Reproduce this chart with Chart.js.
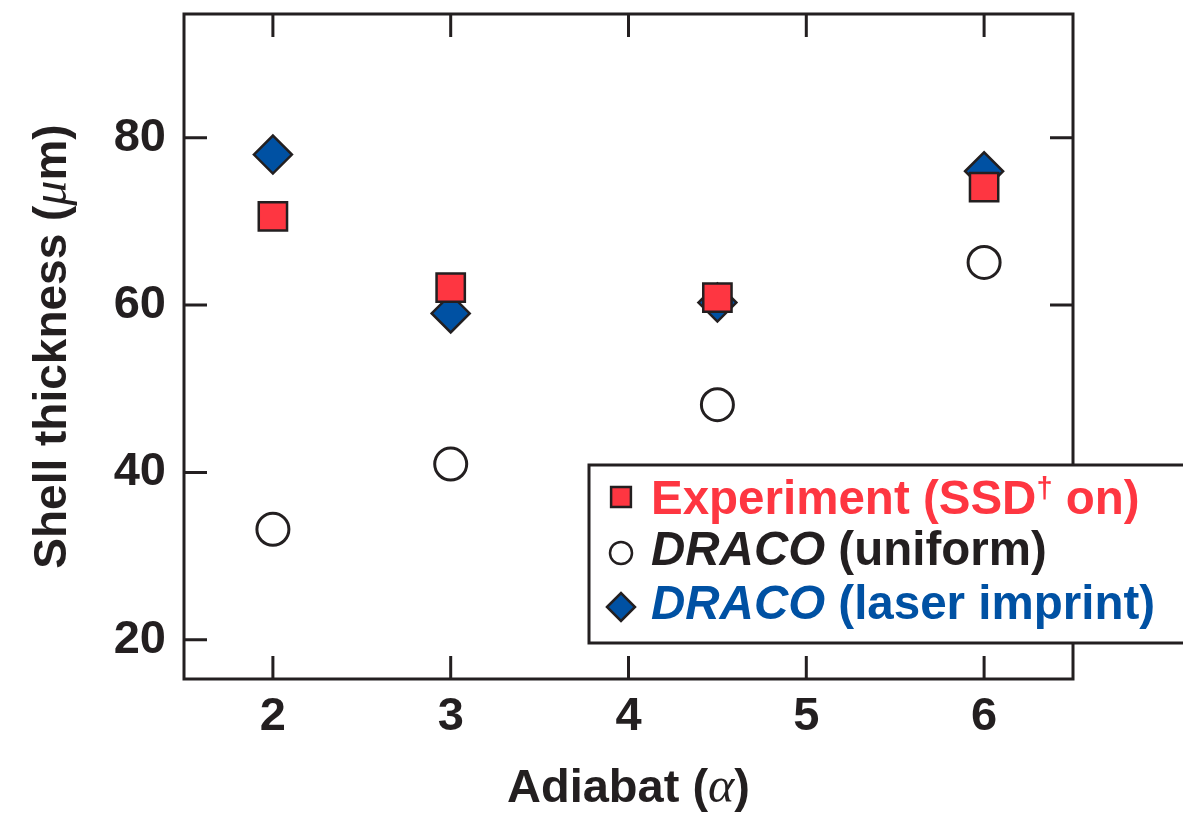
<!DOCTYPE html>
<html>
<head>
<meta charset="utf-8">
<script src="https://cdn.jsdelivr.net/npm/chart.js@4/dist/chart.umd.min.js"></script>
<style>
    html, body { margin: 0; padding: 0; background: #fff; }
    #wrap { width: 1183px; height: 813px; position: relative; }
</style>
</head>
<body>
<div id="wrap"><canvas id="shellChart"></canvas></div>
<script>
    var adiabat = [2, 3, 4.5, 6];
    var experimentSSD = [70.6, 62.1, 60.9, 74.1];
    var dracoUniform = [33.2, 41.0, 48.1, 65.1];
    var dracoImprint = [78.0, 59.0, 60.3, 76.0];
    var xTicks = [2, 3, 4, 5, 6];
    var yTicks = [20, 40, 60, 80];
    var xRange = [1.5, 6.5];
    var yRange = [15.3, 94.8];

    var INK = '#231f20';
    var RED = '#fe3641';
    var BLUE = '#0051a3';
    var SANS = '"Liberation Sans", Arial, Helvetica, sans-serif';
    var GREEK = '"Liberation Serif", "DejaVu Serif", serif';
    var TICK_LEN = 23;

    function toPoints(xs, ys) {
        return xs.map(function (x, i) { return { x: x, y: ys[i] }; });
    }

    // draws a line of mixed-style text
    function drawRuns(ctx, runs, x, y, align) {
        var total = 0;
        runs.forEach(function (r) {
            ctx.font = r.font;
            r.w = ctx.measureText(r.text).width;
            total += r.w;
        });
        var cx = align === 'center' ? x - total / 2 : x;
        ctx.textAlign = 'left';
        ctx.textBaseline = 'alphabetic';
        runs.forEach(function (r) {
            ctx.font = r.font;
            ctx.fillStyle = r.color || INK;
            ctx.fillText(r.text, cx, y + (r.dy || 0));
            cx += r.w;
        });
    }

    var framePlugin = {
        id: 'frame',
        beforeDatasetsDraw: function (chart) {
            var a = chart.chartArea;
            var ctx = chart.ctx;
            var xs = chart.scales.x;
            var ys = chart.scales.y;
            ctx.save();
            ctx.strokeStyle = INK;
            ctx.lineWidth = 3;
            ctx.strokeRect(a.left, a.top, a.right - a.left, a.bottom - a.top);
            ctx.beginPath();
            xTicks.forEach(function (v) {
                var px = xs.getPixelForValue(v);
                ctx.moveTo(px, a.bottom);
                ctx.lineTo(px, a.bottom - TICK_LEN);
                ctx.moveTo(px, a.top);
                ctx.lineTo(px, a.top + TICK_LEN);
            });
            yTicks.forEach(function (v) {
                var py = ys.getPixelForValue(v);
                ctx.moveTo(a.left, py);
                ctx.lineTo(a.left + TICK_LEN, py);
                ctx.moveTo(a.right, py);
                ctx.lineTo(a.right - TICK_LEN, py);
            });
            ctx.stroke();
            ctx.restore();
        },
        afterDraw: function (chart) {
            var a = chart.chartArea;
            var ctx = chart.ctx;
            var bold = 'bold 46px ' + SANS;
            var greek = 'italic 50px ' + GREEK;
            ctx.save();

            // axis titles
            drawRuns(ctx, [
                { text: 'Adiabat (', font: 'bold 47px ' + SANS },
                { text: 'α', font: greek },
                { text: ')', font: 'bold 47px ' + SANS }
            ], (a.left + a.right) / 2, 802, 'center');

            ctx.save();
            ctx.translate(66, (a.top + a.bottom) / 2);
            ctx.rotate(-Math.PI / 2);
            drawRuns(ctx, [
                { text: 'Shell thickness (', font: bold },
                { text: 'μ', font: greek },
                { text: 'm)', font: bold }
            ], 0, 0, 'center');
            ctx.restore();

            // legend box, runs past the right edge like the original
            ctx.fillStyle = '#fff';
            ctx.strokeStyle = INK;
            ctx.lineWidth = 3;
            ctx.fillRect(589, 465, 620, 178);
            ctx.strokeRect(589, 465, 620, 178);

            var legendFont = 'bold 47.5px ' + SANS;
            var legendItalic = 'italic bold 47.5px ' + SANS;
            var markers = [
                { style: 'rect', radius: 14, fill: RED, y: 497 },
                { style: 'circle', radius: 11, fill: '#fff', y: 553 },
                { style: 'rectRot', radius: 14, fill: BLUE, y: 607 }
            ];
            markers.forEach(function (m) {
                ctx.fillStyle = m.fill;
                ctx.strokeStyle = INK;
                ctx.lineWidth = 2.5;
                Chart.helpers.drawPoint(ctx, { pointStyle: m.style, radius: m.radius, borderWidth: 2.5, rotation: 0 }, 621, m.y);
            });

            drawRuns(ctx, [
                { text: 'Experiment (SSD', font: legendFont, color: RED },
                { text: '†', font: 'bold 29px ' + SANS, color: RED, dy: -16 },
                { text: ' on)', font: legendFont, color: RED }
            ], 651, 514, 'left');
            drawRuns(ctx, [
                { text: 'DRACO', font: legendItalic, color: INK },
                { text: ' (uniform)', font: legendFont, color: INK }
            ], 651, 565, 'left');
            drawRuns(ctx, [
                { text: 'DRACO', font: legendItalic, color: BLUE },
                { text: ' (laser imprint)', font: legendFont, color: BLUE }
            ], 651, 619, 'left');

            ctx.restore();
        }
    };

    var ctx = document.getElementById('shellChart').getContext('2d');
    new Chart(ctx, {
        type: 'scatter',
        data: {
            datasets: [{
                label: 'Experiment (SSD on)',
                data: toPoints(adiabat, experimentSSD),
                pointStyle: 'rect',
                pointRadius: 20,
                backgroundColor: RED,
                borderColor: INK,
                borderWidth: 2.5
            }, {
                label: 'DRACO (laser imprint)',
                data: toPoints(adiabat, dracoImprint),
                pointStyle: 'rectRot',
                pointRadius: 19,
                backgroundColor: BLUE,
                borderColor: INK,
                borderWidth: 2.5
            }, {
                label: 'DRACO (uniform)',
                data: toPoints(adiabat, dracoUniform),
                pointStyle: 'circle',
                pointRadius: 16,
                backgroundColor: '#fff',
                borderColor: INK,
                borderWidth: 3
            }]
        },
        options: {
            responsive: true,
            maintainAspectRatio: false,
            animation: false,
            layout: {
                autoPadding: false,
                padding: { top: 14, right: 110, left: 0, bottom: 0 }
            },
            plugins: {
                legend: { display: false },
                tooltip: { enabled: false }
            },
            scales: {
                x: {
                    type: 'linear',
                    min: xRange[0],
                    max: xRange[1],
                    grid: { display: false, drawTicks: false },
                    border: { display: false },
                    afterBuildTicks: function (scale) {
                        scale.ticks = xTicks.map(function (v) { return { value: v }; });
                    },
                    afterFit: function (scale) {
                        scale.height = 134;
                        scale.paddingLeft = 0;
                        scale.paddingRight = 0;
                    },
                    ticks: {
                        color: INK,
                        padding: 10,
                        maxRotation: 0,
                        font: { family: SANS, size: 47, weight: 'bold' }
                    }
                },
                y: {
                    min: yRange[0],
                    max: yRange[1],
                    grid: { display: false, drawTicks: false },
                    border: { display: false },
                    afterBuildTicks: function (scale) {
                        scale.ticks = yTicks.map(function (v) { return { value: v }; });
                    },
                    afterFit: function (scale) {
                        scale.width = 184;
                        scale.paddingTop = 0;
                        scale.paddingBottom = 0;
                    },
                    ticks: {
                        color: INK,
                        padding: 18,
                        font: { family: SANS, size: 47, weight: 'bold' }
                    }
                }
            }
        },
        plugins: [framePlugin]
    });
</script>
</body>
</html>
